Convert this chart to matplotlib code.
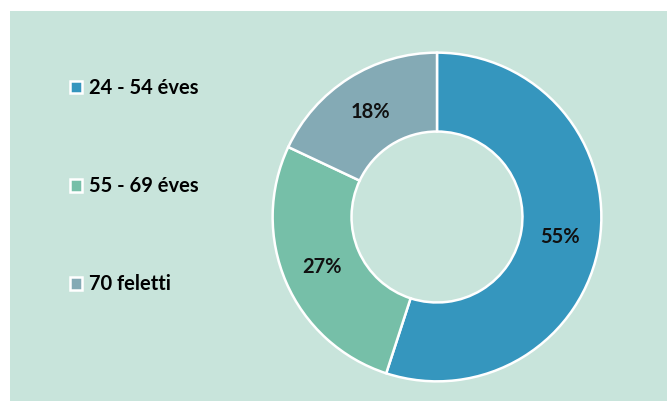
import matplotlib.pyplot as plt
from matplotlib.patches import Rectangle

# data
labels = ["24 - 54 éves", "55 - 69 éves", "70 feletti"]
shares = [55, 27, 18]
colors = ["#3596be", "#76bfa8", "#84aab5"]
bg = "#c8e4db"

plt.rcParams['font.family'] = ['Lato', 'DejaVu Sans']

W, H = 667, 401
fig = plt.figure(figsize=(W / 100, H / 100), dpi=100)
fig.patch.set_facecolor("white")

# light panel behind everything
fig.patches.append(Rectangle((10 / W, 0), 1 - 10 / W, 1 - 11 / H,
                             transform=fig.transFigure, facecolor=bg,
                             edgecolor="none", zorder=-5))

# donut
cx, cy, r = 437, 217, 166
ax = fig.add_axes([(cx - r) / W, (H - cy - r) / H, 2 * r / W, 2 * r / H])
ax.set_zorder(2)
ax.set_facecolor("none")
wedges, texts, autotexts = ax.pie(
    shares, colors=colors, startangle=90, counterclock=False,
    radius=1, autopct="%d%%", pctdistance=0.76,
    wedgeprops=dict(width=0.48, edgecolor="white", linewidth=1.8),
    textprops=dict(fontsize=14.5, fontweight="bold", color="#111111"))
ax.set_xlim(-1.01, 1.01)
ax.set_ylim(-1.01, 1.01)
ax.set_aspect("equal")
ax.axis("off")

leg = fig.legend(wedges, labels, loc="upper left", bbox_to_anchor=(52 / W, 1 - 60 / H),
                 frameon=False, handlelength=0.6, handleheight=0.6,
                 handletextpad=0.35, labelspacing=3.88,
                 prop=dict(size=14.5, weight="bold"))
leg.set_zorder(3)

fig.savefig("out.png", dpi=100, facecolor=fig.get_facecolor())
